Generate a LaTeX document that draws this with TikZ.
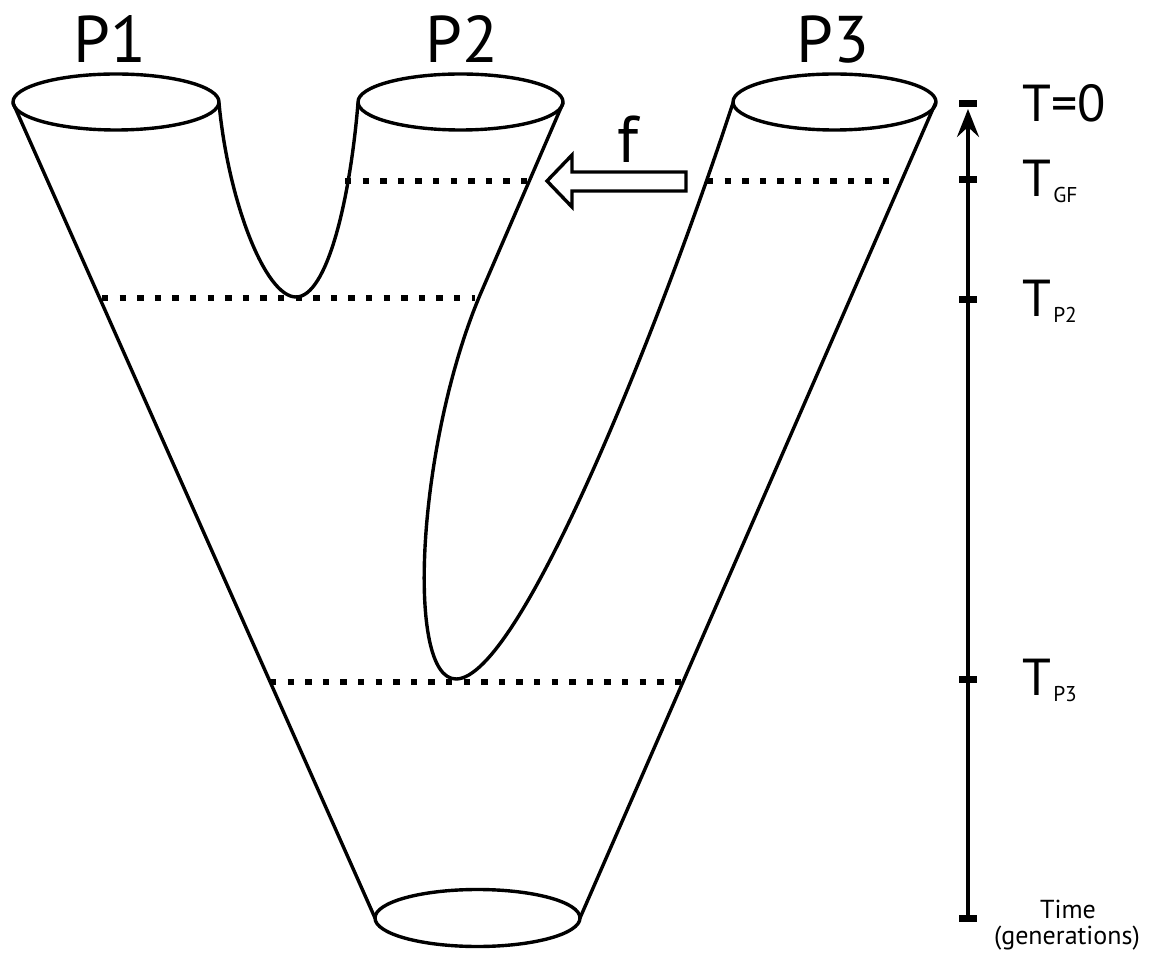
\documentclass[tikz,border=0pt]{standalone}
\usepackage{fontspec}
\setmainfont{PT Sans}
\usetikzlibrary{arrows.meta}
\begin{document}
\begin{tikzpicture}[x=0.5pt,y=-0.5pt,
  outline/.style={line width=1.7pt, line join=round, line cap=round},
  dots/.style={line width=3.2pt, dash pattern=on 3.2pt off 5.6pt},
  axis/.style={line width=2pt},
  tickmark/.style={line width=3.5pt},
  lab/.style={anchor=base, inner sep=0pt},
  tlab/.style={anchor=base west, inner sep=0pt, font=\fontsize{26pt}{30pt}\selectfont},
  big/.style={font=\fontsize{33pt}{36pt}\selectfont},
]
\useasboundingbox (0,0) rectangle (1151,956);
\newcommand{\subtxt}[1]{\kern1pt\raisebox{-3pt}{\fontsize{10.7pt}{12pt}\selectfont #1}}

% coordinates
\coordinate (e1) at (116,102);
\coordinate (e2) at (460.5,102);
\coordinate (e3) at (834.5,102);
\coordinate (eb) at (477.5,918);

% ellipses
\draw[outline] (e1) ellipse [x radius=103, y radius=28];
\draw[outline] (e2) ellipse [x radius=102.5, y radius=28];
\draw[outline] (e3) ellipse [x radius=101.5, y radius=28];
\draw[outline] (eb) ellipse [x radius=102.5, y radius=28.5];

% outlines
\draw[outline] (13,103) -- (375,918);
\draw[outline] (935.5,103) -- (580,918);
\draw[outline] (219,103) .. controls (228,200) and (265,297) .. (296,297)
  .. controls (327,297) and (350,200) .. (358,103);
\draw[outline] (563,103) -- (480,295) .. controls (417,445) and (405,679) .. (456,679)
  .. controls (520,679) and (660,325) .. (733,103);

% dotted levels
\draw[dots] (345,181) -- (527,181);
\draw[dots] (707,181) -- (902,181);
\draw[dots] (102,298) -- (475,298);
\draw[dots] (270,682) -- (681,682);

% migration arrow
\draw[outline, line join=miter] (547,181) -- (572,155) -- (572,172) -- (686,172)
  -- (686,191) -- (572,191) -- (572,207) -- cycle;
\node[lab, big] (f) at (628,163) {f};

% labels
\node[lab, big] (p1) at (110,63) {P1};
\node[lab, big] (p2) at (462,63) {P2};
\node[lab, big] (p3) at (833,63) {P3};

% time axis
\coordinate (ab) at (968,918);
\coordinate (at) at (968,109);
\draw[axis, -{Stealth[length=14pt,width=11pt,inset=5pt]}] (ab) -- (at);
\foreach \yy in {104,180,300,679,918}
  \draw[tickmark] (959,\yy) -- (977,\yy);

\node[tlab] (t0) at (1022,122) {T=0};
\node[tlab] (tgf) at (1022,197) {T\subtxt{GF}};
\node[tlab] (tp2) at (1022,317) {T\subtxt{P2}};
\node[tlab] (tp3) at (1022,695) {T\subtxt{P3}};
\node[lab, font=\fontsize{13pt}{15pt}\selectfont] (time) at (1068,918) {Time};
\node[lab, font=\fontsize{13pt}{15pt}\selectfont] (gen) at (1067,944) {(generations)};
\end{tikzpicture}
\end{document}
